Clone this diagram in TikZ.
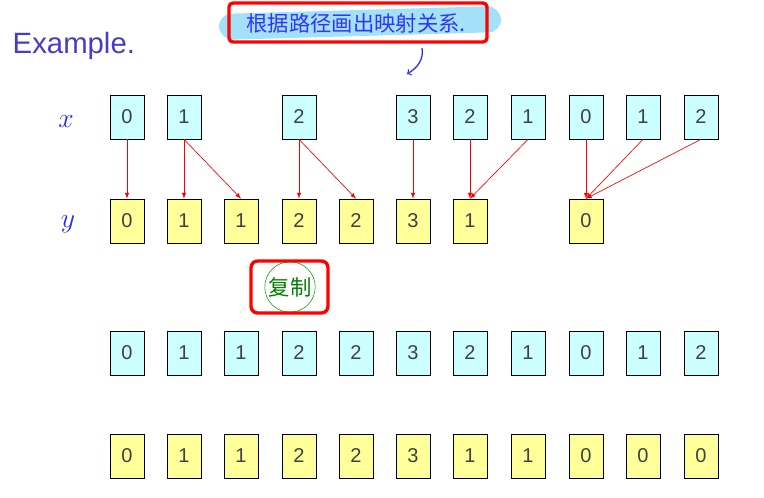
\documentclass[tikz,border=0pt]{standalone}
\usepackage{fontspec}
\setmainfont{Liberation Sans}
\newfontfamily\cjk{Noto Sans CJK SC}
\definecolor{cbox}{RGB}{204,255,255}
\definecolor{ybox}{RGB}{255,255,153}
\definecolor{exblue}{RGB}{70,60,200}
\begin{document}
\begin{tikzpicture}[x=0.75pt,y=-0.75pt,
 cb/.style={draw=black,line width=0.5pt,fill=cbox,minimum width=25.5pt,minimum height=33pt,inner sep=0pt,font=\fontsize{15}{15}\selectfont\color{black!75}},
 yb/.style={cb,fill=ybox},
 ar/.style={->,red,line width=0.5pt,>=latex},
 hand/.style={blue!85,font=\itshape\fontsize{22}{22}\selectfont}]
\useasboundingbox (0,0) rectangle (764,498);
\node[anchor=west,text=exblue,font=\fontsize{22}{22}\selectfont] (ex) at (8,46) {Example.};
\node[hand] (lx) at (66,122) {$x$};
\node[hand] (ly) at (68,224) {$y$};
\foreach \n/\c/\v in {x1/127/0,x2/184/1,x3/299/2,x4/413/3,x5/470/2,x6/528/1,x7/586/0,x8/643/1,x9/701/2}
  \node[cb] (\n) at (\c,117) {\v};
\foreach \n/\c/\v in {y1/127/0,y2/184/1,y3/241/1,y4/299/2,y5/356/2,y6/413/3,y7/470/1,y8/586/0}
  \node[yb] (\n) at (\c,221) {\v};
\foreach \c [count=\i] in {127,184,241,299,356,413,470,528,586,643,701}{
  \node[cb] (c\i) at (\c,353) {};
  \node[yb] (d\i) at (\c,456) {};}
\foreach \v [count=\i] in {0,1,1,2,2,3,2,1,0,1,2} \node[font=\fontsize{15}{15}\selectfont\color{black!75}] at (c\i) {\v};
\foreach \v [count=\i] in {0,1,1,2,2,3,1,1,0,0,0} \node[font=\fontsize{15}{15}\selectfont\color{black!75}] at (d\i) {\v};
\draw[ar] (x1) -- (y1);
\draw[ar] (x2) -- (y2);
\draw[ar] (x2.south) -- (y3.north);
\draw[ar] (x3) -- (y4);
\draw[ar] (x3.south) -- (y5.north);
\draw[ar] (x4) -- (y6);
\draw[ar] (x5) -- (y7);
\draw[ar] (x6.south) -- (y7.north);
\draw[ar] (x7) -- (y8);
\draw[ar] (x8.south) -- (y8.north);
\draw[ar] (x9.south) -- (y8.north);
\fill[cyan!45,opacity=0.8,rounded corners=10pt] (218,14) -- (500,6) -- (502,32) -- (220,40) -- cycle;
\node[blue!80,font=\cjk\fontsize{16}{16}\selectfont] (t1) at (356,23) {根据路径画出映射关系.};
\draw[red,line width=2.5pt,rounded corners=3pt] (229,3) rectangle (487,42);
\coordinate (a0) at (422,48);
\coordinate (a1) at (407,74);
\draw[blue!80,line width=1pt,->] (a0) to[out=-80,in=30] (a1);
\node[green!50!black,font=\cjk\fontsize{16}{16}\selectfont,draw=green!60!black,circle,inner sep=1pt] (t2) at (290,287) {复制};
\draw[red,line width=2.5pt,rounded corners=5pt] (251,261) rectangle (328,313);
\end{tikzpicture}
\end{document}
